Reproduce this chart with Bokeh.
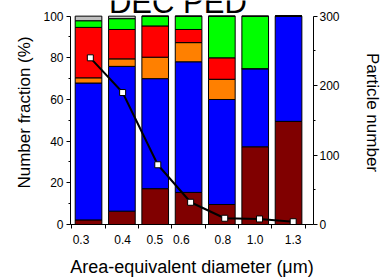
import numpy as np
from bokeh.plotting import figure
from bokeh.models import (Range1d, LinearAxis, FixedTicker, PrintfTickFormatter,
                          Label, ColumnDataSource)
from bokeh.embed import file_html
from bokeh.resources import INLINE

# ---------------- data ----------------
diameter_bins = [0.316, 0.398, 0.501, 0.631, 0.794, 1.0, 1.259]   # bar (bin) centres, um
x_tick_values = [0.3, 0.4, 0.5, 0.6, 0.8, 1.0, 1.3]

frac_dark_red = [2.2, 6.4, 17.2, 15.4, 9.6, 37.3, 49.5]
frac_blue     = [65.7, 69.5, 52.8, 62.7, 50.4, 37.5, 50.5]
frac_orange   = [2.5, 3.6, 10.3, 9.2, 9.7, 0.0, 0.0]
frac_red      = [24.2, 14.1, 15.0, 6.3, 10.3, 0.0, 0.0]
frac_green    = [3.2, 5.2, 4.7, 6.4, 20.0, 25.2, 0.0]
frac_gray     = [2.2, 1.2, 0.0, 0.0, 0.0, 0.0, 0.0]

point_diameters = [0.32, 0.40, 0.51, 0.64, 0.81, 1.03, 1.30]
particle_count  = [240, 190, 86, 32, 9, 8, 4]

layers = [frac_dark_red, frac_blue, frac_orange, frac_red, frac_green, frac_gray]
layer_colors = ["#800000", "#0000FF", "#FF8000", "#FF0000", "#00FF00", "#C0C0C0"]

# ---------------- figure ----------------
FONT = "Liberation Sans"
W, H = 384, 279
TOP_GAP, BOTTOM_BORDER = 16, 50              # px above the 100 % line, px below frame
frame_h = H - BOTTOM_BORDER
head = frame_h / (frame_h - TOP_GAP)         # range stretch so 100 % sits 16 px down

p = figure(width=W, height=H, output_backend="svg", toolbar_location=None,
           x_axis_type="log", x_range=Range1d(0.279, 1.496),
           y_range=Range1d(0, 100 * head), title=None)
p.min_border_left = 70
p.min_border_right = 57
p.min_border_top = 0
p.min_border_bottom = BOTTOM_BORDER
p.outline_line_color = None
p.xgrid.visible = False
p.ygrid.visible = False
p.background_fill_color = "white"
p.border_fill_color = "white"

# bars: geometric bin width
centres = np.array(diameter_bins)
half_log = 0.1 * 0.8 / 2.0                    # bar occupies 80% of a 0.1-decade bin
left = centres / 10 ** half_log
right = centres * 10 ** half_log
bottom = np.zeros(len(centres))
for vals, col in zip(layers, layer_colors):
    top = bottom + np.array(vals)
    src = ColumnDataSource(dict(left=left, right=right, bottom=bottom, top=top))
    p.quad(left="left", right="right", bottom="bottom", top="top", source=src,
           fill_color=col, line_color="black", line_width=1)
    bottom = top

# right axis: particle number
p.extra_y_ranges = {"count": Range1d(0, 300 * head)}
p.line(point_diameters, particle_count, y_range_name="count",
       line_color="black", line_width=2)
p.scatter(point_diameters, particle_count, y_range_name="count", marker="square",
          size=6, fill_color="white", line_color="black", line_width=1)

# x axis
edges = np.concatenate([[centres[0] / 10 ** 0.05], centres * 10 ** 0.05])
xax = p.xaxis[0]
xax.ticker = FixedTicker(ticks=x_tick_values, minor_ticks=list(edges))
xax.formatter = PrintfTickFormatter(format="%.1f")
xax.major_tick_out = 0
xax.major_tick_in = 0
xax.minor_tick_out = 4
xax.minor_tick_in = 0
xax.major_label_standoff = 6
xax.axis_label = "Area-equivalent diameter (μm)"
xax.axis_label_standoff = 10

# left axis
yax = p.yaxis[0]
yax.bounds = (0, 100)
yax.ticker = FixedTicker(ticks=[0, 20, 40, 60, 80, 100], minor_ticks=[10, 30, 50, 70, 90])
yax.major_tick_out = 4
yax.major_tick_in = 0
yax.minor_tick_out = 2
yax.minor_tick_in = 0
yax.major_label_standoff = 3
yax.axis_label = "Number fraction (%)"
yax.axis_label_standoff = 6

rax = LinearAxis(y_range_name="count", bounds=(0, 300),
                 ticker=FixedTicker(ticks=[0, 100, 200, 300], minor_ticks=[50, 150, 250]))
rax.major_tick_out = 4
rax.major_tick_in = 0
rax.minor_tick_out = 2
rax.minor_tick_in = 0
rax.major_label_standoff = 2
rax.axis_label = "Particle number"
rax.axis_label_standoff = 20
p.add_layout(rax, "right")

for ax in (xax, yax, rax):
    ax.axis_line_color = "black"
    ax.major_tick_line_color = "black"
    ax.minor_tick_line_color = "black"
    ax.major_label_text_font = FONT
    ax.major_label_text_font_size = "12px"
    ax.major_label_text_color = "black"
    ax.axis_label_text_font = FONT
    ax.axis_label_text_font_style = "normal"
    ax.axis_label_text_font_size = "17px"
    ax.axis_label_text_color = "black"
xax.axis_label_text_font_size = "18px"

# panel title, cut off at the top edge as in the original
title = Label(x=0.586, y=100 * head - 2 * 100 * head / frame_h, text="DEC PED",
              text_font=FONT, text_font_size="31px", text_align="center",
              text_baseline="alphabetic", text_color="black")
p.add_layout(title)

open("out.html", "w").write(file_html(p, INLINE))
